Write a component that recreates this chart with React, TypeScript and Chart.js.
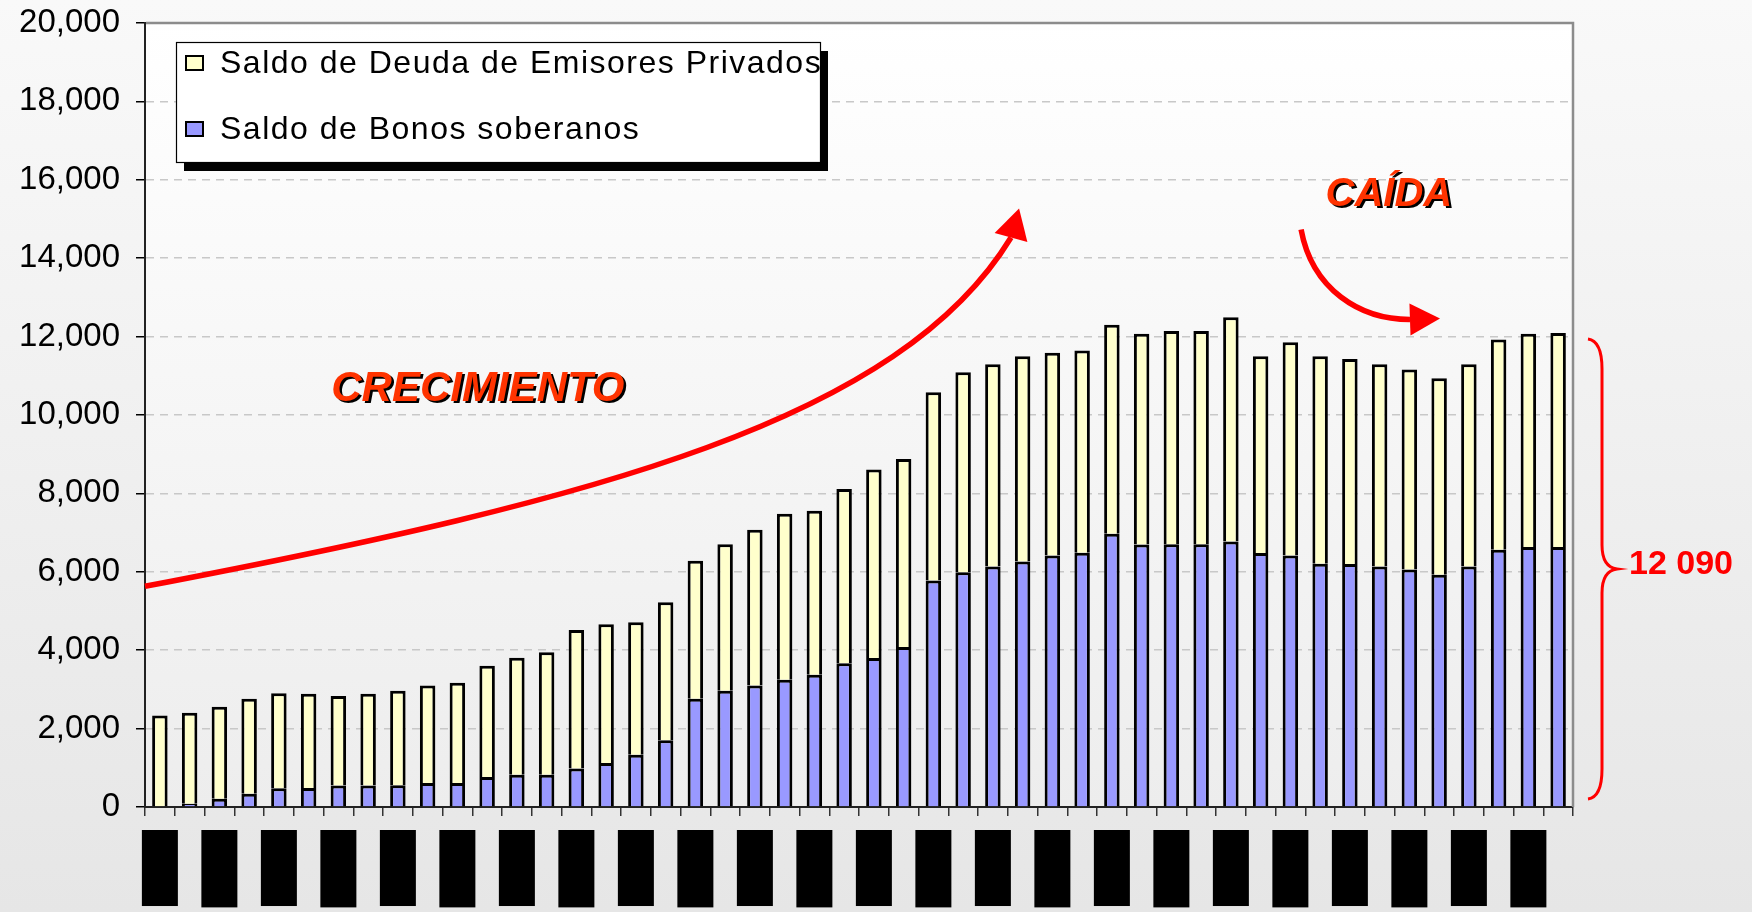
import React, { useEffect, useRef } from 'react';
import { Chart, registerables } from 'chart.js';

Chart.register(...registerables);

const FONT = '"Liberation Sans", Arial, Helvetica, sans-serif';

// Quarter labels (hidden behind black boxes in the reference)
const periods: string[] = [
  'Mar-98', 'Jun-98', 'Sep-98', 'Dic-98',
  'Mar-99', 'Jun-99', 'Sep-99', 'Dic-99',
  'Mar-00', 'Jun-00', 'Sep-00', 'Dic-00',
  'Mar-01', 'Jun-01', 'Sep-01', 'Dic-01',
  'Mar-02', 'Jun-02', 'Sep-02', 'Dic-02',
  'Mar-03', 'Jun-03', 'Sep-03', 'Dic-03',
  'Mar-04', 'Jun-04', 'Sep-04', 'Dic-04',
  'Mar-05', 'Jun-05', 'Sep-05', 'Dic-05',
  'Mar-06', 'Jun-06', 'Sep-06', 'Dic-06',
  'Mar-07', 'Jun-07', 'Sep-07', 'Dic-07',
  'Mar-08', 'Jun-08', 'Sep-08', 'Dic-08',
  'Mar-09', 'Jun-09', 'Sep-09', 'Dic-09',
];

const sovereignBonds: number[] = [
  0, 80, 210, 340, 480, 485, 550, 550, 555, 610, 615, 765,
  825, 825, 980, 1120, 1335, 1700, 2760, 2965, 3100, 3245, 3375, 3670,
  3800, 4080, 5780, 5990, 6135, 6265, 6415, 6485, 6970, 6695, 6700, 6700,
  6775, 6480, 6415, 6205, 6200, 6135, 6060, 5925, 6135, 6560, 6630, 6630,
];

const privateIssuers: number[] = [
  2335, 2325, 2350, 2420, 2420, 2405, 2280, 2340, 2410, 2490, 2555, 2840,
  2980, 3125, 3535, 3545, 3380, 3525, 3520, 3740, 3970, 4235, 4180, 4440,
  4810, 4800, 4800, 5100, 5160, 5235, 5170, 5160, 5330, 5375, 5440, 5440,
  5720, 5020, 5440, 5295, 5230, 5160, 5100, 5015, 5160, 5365, 5440, 5460,
];

const yTicks: number[] = [0, 2000, 4000, 6000, 8000, 10000, 12000, 14000, 16000, 18000, 20000];

const seriesLabels = {
  sovereign: 'Saldo de Bonos soberanos',
  private: 'Saldo de Deuda de Emisores Privados',
};

const growthLabel = 'CRECIMIENTO';
const fallLabel = 'CAÍDA';
const finalTotalLabel = '12 090';
const finalTotal = 12090;

type Pt = [number, number];

const backgroundPlugin = {
  id: 'bg',
  beforeDraw(chart: any) {
    const { ctx, width, height, chartArea } = chart;
    ctx.save();
    const g = ctx.createLinearGradient(0, 0, 0, height);
    g.addColorStop(0, '#F9F9F9');
    g.addColorStop(1, '#E6E6E6');
    ctx.fillStyle = g;
    ctx.fillRect(0, 0, width, height);
    const g2 = ctx.createLinearGradient(0, chartArea.top, 0, chartArea.bottom);
    g2.addColorStop(0, '#FFFFFF');
    g2.addColorStop(1, '#EDEDED');
    ctx.fillStyle = g2;
    ctx.fillRect(chartArea.left, chartArea.top, chartArea.right - chartArea.left, chartArea.bottom - chartArea.top);
    ctx.restore();
  },
};

function drawBezierArrow(ctx: CanvasRenderingContext2D, p0: Pt, p1: Pt, p2: Pt, p3: Pt, tip: Pt, half: number, lw: number, color: string) {
  ctx.save();
  ctx.strokeStyle = color;
  ctx.lineWidth = lw;
  ctx.lineCap = 'butt';
  ctx.beginPath();
  ctx.moveTo(p0[0], p0[1]);
  ctx.bezierCurveTo(p1[0], p1[1], p2[0], p2[1], p3[0], p3[1]);
  ctx.stroke();
  const dx = tip[0] - p3[0];
  const dy = tip[1] - p3[1];
  const L = Math.hypot(dx, dy) || 1;
  const nx = -dy / L;
  const ny = dx / L;
  ctx.fillStyle = color;
  ctx.beginPath();
  ctx.moveTo(tip[0], tip[1]);
  ctx.lineTo(p3[0] + nx * half, p3[1] + ny * half);
  ctx.lineTo(p3[0] - nx * half, p3[1] - ny * half);
  ctx.closePath();
  ctx.fill();
  ctx.restore();
}

function drawShadowText(ctx: CanvasRenderingContext2D, text: string, x: number, y: number, size: number) {
  ctx.save();
  ctx.font = `italic bold ${size}px ${FONT}`;
  ctx.textAlign = 'center';
  ctx.textBaseline = 'middle';
  ctx.shadowColor = '#000000';
  ctx.shadowOffsetX = 2.5;
  ctx.shadowOffsetY = 2.5;
  ctx.shadowBlur = 0;
  ctx.fillStyle = '#FF3300';
  ctx.fillText(text, x, y);
  ctx.restore();
}

const annotationPlugin = {
  id: 'annotations',
  afterDraw(chart: any) {
    const { ctx, chartArea } = chart;
    const xs = chart.scales.x;
    const ys = chart.scales.y;
    const P = (i: number, v: number): Pt => [xs.getPixelForValue(i), ys.getPixelForValue(v)];

    ctx.save();
    // gray frame on top and right of plot area
    ctx.strokeStyle = '#8C8C8C';
    ctx.lineWidth = 2.5;
    ctx.beginPath();
    ctx.moveTo(chartArea.left + 1, chartArea.top);
    ctx.lineTo(chartArea.right, chartArea.top);
    ctx.lineTo(chartArea.right, chartArea.bottom);
    ctx.stroke();
    ctx.restore();

    // growth arrow
    drawBezierArrow(ctx,
      P(-0.5, 5630), P(14.79, 7848), P(24.88, 9888), P(28.61, 14528),
      P(28.88, 15268), 17, 5.5, '#FF0000');
    // fall arrow
    drawBezierArrow(ctx,
      P(38.36, 14732), P(38.73, 13202), P(40.34, 12437), P(42.02, 12437),
      P(43.03, 12463), 16, 5.5, '#FF0000');

    const g = P(10.69, 10660);
    drawShadowText(ctx, growthLabel, g[0], g[1], 42);
    const f = P(41.31, 15620);
    drawShadowText(ctx, fallLabel, f[0], f[1], 40);

    // brace on the right
    const yTop = ys.getPixelForValue(finalTotal) + 6;
    const yBot = ys.getPixelForValue(0) - 8;
    const yMid = (yTop + yBot) / 2;
    const xTip = chartArea.right + 15;
    const xSp = chartArea.right + 29;
    const xMid = chartArea.right + 44;
    ctx.save();
    ctx.strokeStyle = '#FF0000';
    ctx.lineWidth = 3;
    ctx.beginPath();
    ctx.moveTo(xTip, yTop);
    ctx.quadraticCurveTo(xSp, yTop + 2, xSp, yTop + 30);
    ctx.lineTo(xSp, yMid - 24);
    ctx.quadraticCurveTo(xSp, yMid - 2, xMid, yMid);
    ctx.quadraticCurveTo(xSp, yMid + 2, xSp, yMid + 24);
    ctx.lineTo(xSp, yBot - 30);
    ctx.quadraticCurveTo(xSp, yBot - 2, xTip, yBot);
    ctx.stroke();
    ctx.font = `bold 34px ${FONT}`;
    ctx.fillStyle = '#FF0000';
    ctx.textAlign = 'left';
    ctx.textBaseline = 'middle';
    ctx.fillText(finalTotalLabel, chartArea.right + 56, yMid - 4);
    ctx.restore();

    // legend box
    const datasets = chart.data.datasets;
    const items = [datasets[1], datasets[0]];
    const bx = chartArea.left + 31;
    const by = chartArea.top + 19;
    const bw = 644;
    const bh = 120;
    ctx.save();
    ctx.fillStyle = '#000000';
    ctx.fillRect(bx + 8, by + 9, bw, bh);
    ctx.fillStyle = '#FFFFFF';
    ctx.fillRect(bx, by, bw, bh);
    ctx.strokeStyle = '#000000';
    ctx.lineWidth = 1.2;
    ctx.strokeRect(bx + 0.5, by + 0.5, bw, bh);
    ctx.font = `32px ${FONT}`;
    try { (ctx as any).letterSpacing = '1.5px'; } catch (e) { /* ignore */ }
    ctx.textBaseline = 'middle';
    ctx.textAlign = 'left';
    const rows = [by + 21, by + 87];
    items.forEach((ds: any, k: number) => {
      const ry = rows[k];
      ctx.fillStyle = ds.backgroundColor;
      ctx.fillRect(bx + 10, ry - 7, 17, 14);
      ctx.strokeStyle = '#000000';
      ctx.lineWidth = 2;
      ctx.strokeRect(bx + 10, ry - 7, 17, 14);
      ctx.fillStyle = '#000000';
      ctx.fillText(ds.label, bx + 44, ry + 1);
    });
    ctx.restore();
  },
};

export default function App() {
  const canvasRef = useRef<HTMLCanvasElement | null>(null);

  useEffect(() => {
    const canvas = canvasRef.current;
    if (!canvas) return;
    const chart = new Chart(canvas, {
      type: 'bar',
      data: {
        labels: periods,
        datasets: [
          {
            label: seriesLabels.sovereign,
            data: sovereignBonds,
            backgroundColor: '#9999FF',
            borderColor: '#000000',
            borderWidth: 3,
          },
          {
            label: seriesLabels.private,
            data: privateIssuers,
            backgroundColor: '#FFFFCC',
            borderColor: '#000000',
            borderWidth: 3,
          },
        ],
      },
      options: {
        responsive: false,
        maintainAspectRatio: false,
        animation: false,
        events: [],
        layout: { padding: { left: 0, right: 179, top: 23, bottom: 0 } },
        datasets: { bar: { categoryPercentage: 1, barPercentage: 0.52 } } as any,
        plugins: {
          legend: { display: false },
          tooltip: { enabled: false },
          title: { display: false },
        },
        scales: {
          x: {
            stacked: true,
            offset: true,
            grid: {
              display: true,
              drawOnChartArea: false,
              drawTicks: true,
              tickLength: 9,
              tickColor: '#333333',
              lineWidth: 1.5,
              offset: true,
            },
            border: { display: true, color: '#222222', width: 2 },
            ticks: {
              autoSkip: false,
              minRotation: 90,
              maxRotation: 90,
              padding: 14,
              labelOffset: -18,
              color: '#000000',
              showLabelBackdrop: true,
              backdropColor: '#000000',
              backdropPadding: 0,
              font: { family: FONT, size: 24, lineHeight: 1.5 },
              callback: (_v: any, i: number) => (i % 2 === 0 ? periods[i] : ''),
            },
            afterFit: (s: any) => { s.height = 105; },
          } as any,
          y: {
            stacked: true,
            min: 0,
            max: 20000,
            grid: {
              color: '#C8C8C8',
              lineWidth: 1.5,
              tickColor: '#000000',
              tickLength: 9,
            },
            border: { display: true, color: '#222222', width: 2, dash: [8, 6] },
            ticks: {
              stepSize: 2000,
              padding: 16,
              color: '#000000',
              font: { family: FONT, size: 33 },
              callback: (v: any) => (yTicks.includes(Number(v)) ? Number(v).toLocaleString('en-US') : ''),
            },
            afterFit: (s: any) => { s.width = 145; s.paddingTop = 0; s.paddingBottom = 0; },
          } as any,
        },
      },
      plugins: [backgroundPlugin, annotationPlugin],
    });
    return () => chart.destroy();
  }, []);

  return (
    <div style={{ position: 'absolute', left: 0, top: 0, width: 1752, height: 912, overflow: 'hidden' }}>
      <canvas ref={canvasRef} width={1752} height={912} style={{ display: 'block', width: '1752px', height: '912px' }} />
    </div>
  );
}
